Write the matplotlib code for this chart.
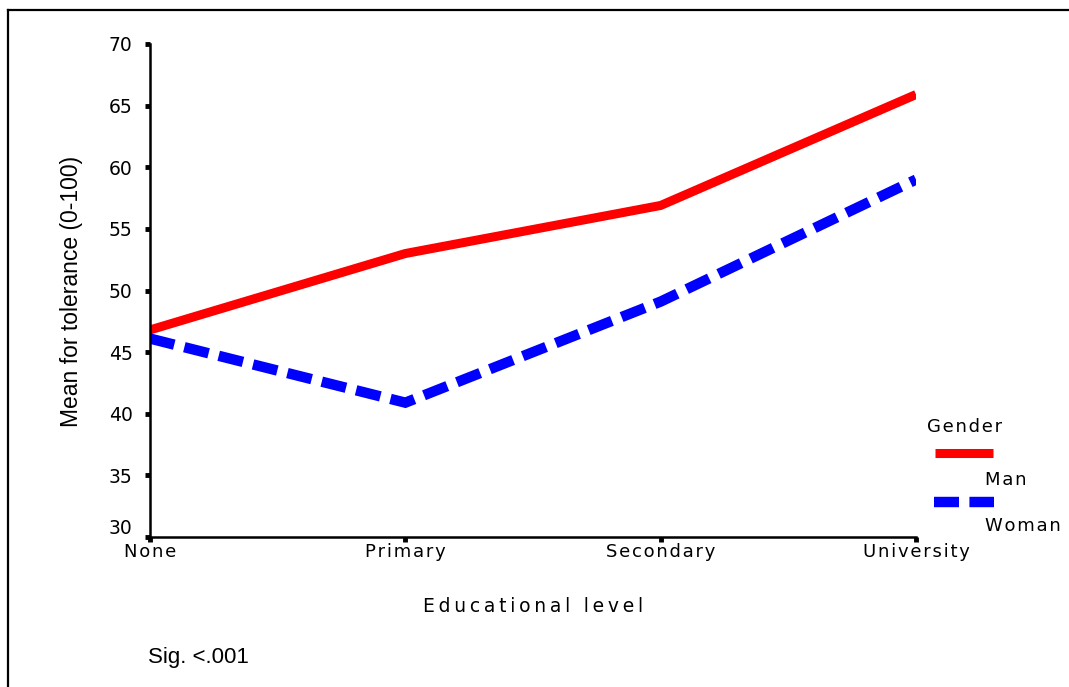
import matplotlib
matplotlib.use("Agg")
import matplotlib.pyplot as plt
from matplotlib.lines import Line2D
from matplotlib.transforms import ScaledTranslation

# Mean tolerance score (0-100) by educational level and gender
levels = ["None", "Primary", "Secondary", "University"]
man = [46.8, 53.0, 56.9, 65.9]
woman = [46.1, 40.9, 49.1, 59.0]
y_ticks = [30, 35, 40, 45, 50, 55, 60, 65, 70]

RED = "#ff0000"
BLUE = "#0000ff"
SANS = ["Liberation Sans", "DejaVu Sans"]
WIDE = ["DejaVu Sans"]
THIN = "\u2009"
HAIR = "\u200a"


def spaced(s, sep=HAIR):
    """Letter-spaced version of a label."""
    return sep.join(s)


W, H = 1069, 687
fig = plt.figure(figsize=(W / 100, H / 100), dpi=100)
ax = fig.add_axes([150 / W, (H - 537) / H, (916 - 150) / W, (537 - 44) / H])

x = list(range(len(levels)))
ax.plot(x, man, color=RED, lw=6.5, solid_joinstyle="miter", solid_capstyle="butt")
ax.plot(x, woman, color=BLUE, lw=7.5, dashes=(2.4, 1.0),
        dash_capstyle="butt", dash_joinstyle="miter")

ax.set_xlim(0, 3)
ax.set_ylim(30, 70)
ax.set_xticks(x)
ax.set_xticklabels([spaced(s) for s in levels], fontsize=13, family=WIDE)
ax.set_yticks(y_ticks)
ax.set_yticklabels([str(v) for v in y_ticks], fontsize=13.5, family=WIDE)

for side in ("top", "right"):
    ax.spines[side].set_visible(False)
for side in ("left", "bottom"):
    ax.spines[side].set_linewidth(1.8)
ax.tick_params(axis="both", direction="out", length=3.5, width=3.5, color="black")
ax.tick_params(axis="y", pad=9)
ax.tick_params(axis="x", pad=1)

# lift the lowest y label clear of the first category label
low = ax.get_yticklabels()[0]
low.set_transform(low.get_transform() + ScaledTranslation(0, 10 / 100, fig.dpi_scale_trans))

fig.text(72 / W, 1 - 291 / H, "Mean for tolerance (0-100)", fontsize=16.5,
         family=SANS, rotation=90, ha="center", va="center")
fig.text(533 / W, 1 - 606 / H, spaced("Educational level", THIN), fontsize=13.5,
         family=WIDE, ha="center", va="center")
fig.text(148 / W, 1 - 658 / H, "Sig. <.001", fontsize=16, family=SANS,
         ha="left", va="center")

# Legend drawn at the right of the plot area
fig.text(927 / W, 1 - 427 / H, spaced("Gender"), fontsize=13, family=WIDE,
         ha="left", va="center")
fig.add_artist(Line2D([935 / W, 993 / W], [1 - 453 / H, 1 - 453 / H],
                      transform=fig.transFigure, color=RED, lw=6.5,
                      solid_capstyle="butt"))
fig.text(985 / W, 1 - 480 / H, spaced("Man"), fontsize=13, family=WIDE,
         ha="left", va="center")
fig.add_artist(Line2D([934 / W, 994 / W], [1 - 502 / H, 1 - 502 / H],
                      transform=fig.transFigure, color=BLUE, lw=7.5,
                      dashes=(2.4, 1.0), dash_capstyle="butt"))
fig.text(985 / W, 1 - 526 / H, spaced("Woman"), fontsize=13, family=WIDE,
         ha="left", va="center")

# Page frame around the chart
fig.add_artist(Line2D([8 / W, 8 / W], [0, 1 - 10 / H], transform=fig.transFigure,
                      color="black", lw=1.6))
fig.add_artist(Line2D([8 / W, 1], [1 - 10 / H, 1 - 10 / H], transform=fig.transFigure,
                      color="black", lw=1.6))

fig.savefig("out.png", dpi=100)
